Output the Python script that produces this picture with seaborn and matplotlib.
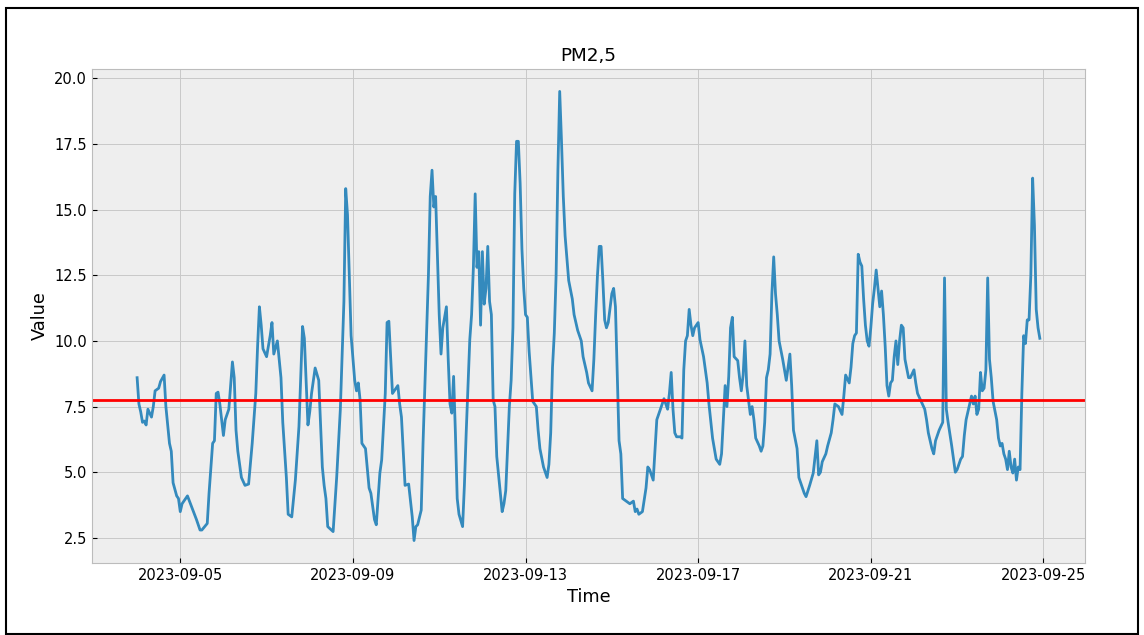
import pandas as pd
import seaborn as sns
import matplotlib.pyplot as plt
import matplotlib.dates as mdates
from matplotlib.patches import Rectangle

# hourly PM2,5 readings, hour offsets from the first timestamp
start = '2023-09-04 00:00'
hours = [0, 1, 2, 3, 4, 5, 6, 8, 9, 10, 12, 13, 15, 16, 18, 19, 20, 22, 23, 24,
         25, 28, 33, 35, 36, 39, 40, 42, 43, 44, 45, 46, 47, 48, 49, 51, 53, 54, 55, 56,
         58, 60, 62, 64, 66, 67, 68, 69, 70, 72, 74, 75, 76, 78, 79, 80, 81, 83, 84, 86,
         88, 90, 92, 93, 95, 96, 97, 98, 99, 101, 103, 104, 105, 106, 108, 109, 111, 113, 114, 115,
         116, 117, 118, 119, 121, 122, 123, 124, 125, 127, 129, 130, 132, 133, 135, 136, 138, 139, 140, 142,
         143, 145, 146, 147, 149, 151, 153, 154, 155, 156, 158, 159, 161, 162, 163, 164, 165, 166, 167, 168,
         169, 170, 172, 173, 174, 175, 176, 177, 178, 179, 181, 182, 183, 185, 186, 187, 188, 189, 190, 191,
         192, 193, 194, 195, 196, 197, 198, 199, 200, 203, 204, 205, 206, 207, 208, 209, 210, 211, 212, 213,
         214, 215, 216, 217, 218, 220, 222, 223, 224, 226, 228, 229, 230, 231, 232, 233, 234, 235, 236, 237,
         238, 240, 242, 243, 245, 247, 248, 250, 251, 253, 254, 255, 256, 257, 258, 259, 260, 261, 262, 264,
         265, 266, 267, 268, 269, 270, 272, 274, 276, 277, 278, 279, 281, 283, 284, 285, 287, 289, 291, 292,
         293, 295, 296, 297, 298, 299, 300, 302, 303, 304, 305, 306, 307, 308, 309, 310, 312, 313, 315, 317,
         318, 320, 322, 324, 325, 326, 327, 328, 329, 330, 331, 332, 334, 335, 336, 337, 338, 339, 340, 341,
         342, 343, 344, 346, 347, 348, 349, 350, 351, 352, 353, 354, 355, 356, 357, 359, 361, 362, 363, 364,
         365, 367, 368, 369, 371, 372, 374, 376, 377, 378, 379, 380, 381, 383, 384, 386, 387, 388, 390, 392,
         393, 394, 396, 397, 398, 399, 400, 401, 402, 403, 404, 405, 406, 407, 408, 409, 410, 411, 412, 413,
         414, 415, 416, 417, 418, 419, 420, 421, 422, 423, 424, 425, 426, 427, 429, 430, 432, 433, 434, 436,
         438, 439, 440, 442, 443, 444, 446, 448, 449, 450, 451, 453, 454, 455, 456, 458, 459, 460, 461, 463,
         464, 465, 466, 467, 468, 469, 470, 471, 472, 473, 474, 475, 476, 478, 479, 480, 481, 482, 483, 484,
         485, 486, 487, 488, 489, 490, 491, 492, 493, 494, 495, 496, 497, 498, 499, 500, 501, 502]
pm25 = [8.6, 7.6, 7.3, 6.9, 6.95, 6.8, 7.4, 7.1, 7.5, 8.1, 8.2, 8.45, 8.7, 7.5, 6.1, 5.8, 4.6, 4.1, 4.0, 3.5,
        3.8, 4.1, 3.2, 2.8, 2.8, 3.05, 4.2, 6.1, 6.2, 8.0, 8.05, 7.6, 7.0, 6.4, 7.0, 7.4, 9.2, 8.6, 6.6, 5.8,
        4.8, 4.5, 4.55, 6.1, 8.0, 9.8, 11.3, 10.6, 9.7, 9.4, 10.2, 10.7, 9.5, 10.0, 9.3, 8.6, 6.9, 4.8, 3.4, 3.3,
        4.7, 6.74, 10.55, 10.1, 6.8, 7.3, 8.0, 8.5, 8.97, 8.5, 5.2, 4.5, 4.0, 2.93, 2.8, 2.74, 4.83, 7.38, 9.5, 11.5,
        15.8, 14.8, 12.5, 10.2, 8.5, 8.1, 8.4, 7.75, 6.1, 5.9, 4.4, 4.2, 3.2, 3.0, 4.97, 5.47, 8.0, 10.7, 10.75, 8.0,
        8.1, 8.3, 7.6, 7.1, 4.5, 4.55, 3.3, 2.4, 2.93, 3.0, 3.56, 6.1, 10.3, 12.5, 15.5, 16.5, 15.1, 15.5, 13.3, 11.0,
        9.5, 10.5, 11.3, 9.3, 7.6, 7.25, 8.65, 6.5, 4.0, 3.4, 2.93, 4.5, 6.5, 10.05, 11.0, 12.8, 15.6, 12.8, 13.4, 10.6,
        13.4, 11.4, 12.0, 13.6, 11.5, 11.0, 7.75, 7.5, 5.6, 3.5, 3.8, 4.3, 5.9, 7.5, 8.5, 10.5, 15.6, 17.6, 17.6, 16.0,
        13.5, 12.0, 11.0, 10.9, 9.6, 7.7, 7.5, 6.6, 5.9, 5.2, 4.8, 5.3, 6.5, 9.0, 10.3, 12.5, 16.5, 19.5, 17.6, 15.5,
        14.0, 12.3, 11.6, 11.0, 10.4, 10.0, 9.4, 8.8, 8.4, 8.1, 9.3, 11.0, 12.5, 13.6, 13.6, 12.3, 10.8, 10.5, 10.7, 11.8,
        12.0, 11.3, 8.8, 6.2, 5.7, 4.0, 3.9, 3.8, 3.9, 3.5, 3.6, 3.4, 3.5, 4.4, 5.2, 5.1, 4.7, 7.0, 7.4, 7.6,
        7.8, 7.4, 8.0, 8.8, 7.4, 6.5, 6.35, 6.35, 6.3, 8.9, 10.0, 10.2, 11.2, 10.6, 10.2, 10.5, 10.7, 10.05, 9.4, 8.4,
        7.6, 6.3, 5.5, 5.3, 5.7, 7.0, 8.3, 7.5, 8.65, 10.5, 10.9, 9.4, 9.25, 8.6, 8.1, 8.7, 10.0, 8.3, 7.75, 7.2,
        7.5, 7.0, 6.3, 6.0, 5.8, 6.0, 6.9, 8.6, 8.9, 9.5, 11.8, 13.2, 11.8, 11.0, 10.0, 9.3, 8.5, 9.0, 9.5, 8.3,
        6.6, 5.9, 4.8, 4.6, 4.2, 4.07, 4.5, 4.97, 5.6, 6.2, 4.9, 5.0, 5.4, 5.7, 6.0, 6.5, 7.0, 7.6, 7.5, 7.2,
        7.9, 8.7, 8.4, 9.0, 9.9, 10.2, 10.3, 13.3, 13.0, 12.85, 11.6, 10.6, 10.0, 9.8, 10.5, 11.4, 12.0, 12.7, 12.0, 11.3,
        11.9, 11.0, 9.8, 8.3, 7.9, 8.4, 8.5, 9.4, 10.0, 9.1, 10.0, 10.6, 10.5, 9.3, 8.6, 8.6, 8.9, 8.4, 8.0, 7.7,
        7.4, 7.0, 6.5, 5.9, 5.7, 6.2, 6.6, 6.9, 12.4, 7.4, 6.9, 6.0, 5.5, 5.0, 5.1, 5.5, 5.6, 6.4, 7.0, 7.6,
        7.9, 7.6, 7.9, 7.2, 7.4, 8.8, 8.1, 8.2, 8.9, 12.4, 9.3, 8.6, 7.7, 7.0, 6.3, 6.0, 6.1, 5.7, 5.5, 5.1,
        5.8, 5.2, 4.97, 5.5, 4.7, 5.2, 5.1, 8.0, 10.2, 9.9, 10.8, 10.8, 12.5, 16.2, 14.4, 11.2, 10.5, 10.1]
mean_level = 7.76

df = pd.DataFrame({
    'Time': pd.Timestamp(start) + pd.to_timedelta(hours, unit='h'),
    'Value': pm25,
})

plt.style.use('bmh')
fig = plt.figure(figsize=(11.44, 6.35), dpi=100)
ax = fig.add_axes([0.0804, 0.1134, 0.868, 0.778])

sns.lineplot(data=df, x='Time', y='Value', ax=ax, color='#348ABD', linewidth=2)
ax.axhline(mean_level, color='red', linewidth=2)

ax.xaxis.set_major_locator(mdates.DayLocator(bymonthday=range(1, 32, 4)))
ax.xaxis.set_major_formatter(mdates.DateFormatter('%Y-%m-%d'))
ax.set_yticks([2.5, 5.0, 7.5, 10.0, 12.5, 15.0, 17.5, 20.0])
ax.tick_params(labelsize=10.5)
ax.grid(True, color='#c8c8c8', linestyle='-', linewidth=0.7)

ax.set_title('PM2,5', fontsize=13.2)
ax.set_xlabel('Time', fontsize=12.8)
ax.set_ylabel('Value', fontsize=12.8)

# black frame around the whole picture
fig.add_artist(Rectangle((6 / 1144, 1 / 635), 1132 / 1144, 626 / 635,
                         transform=fig.transFigure, fill=False,
                         edgecolor='black', linewidth=1.5))

fig.savefig('out.png', dpi=100)
